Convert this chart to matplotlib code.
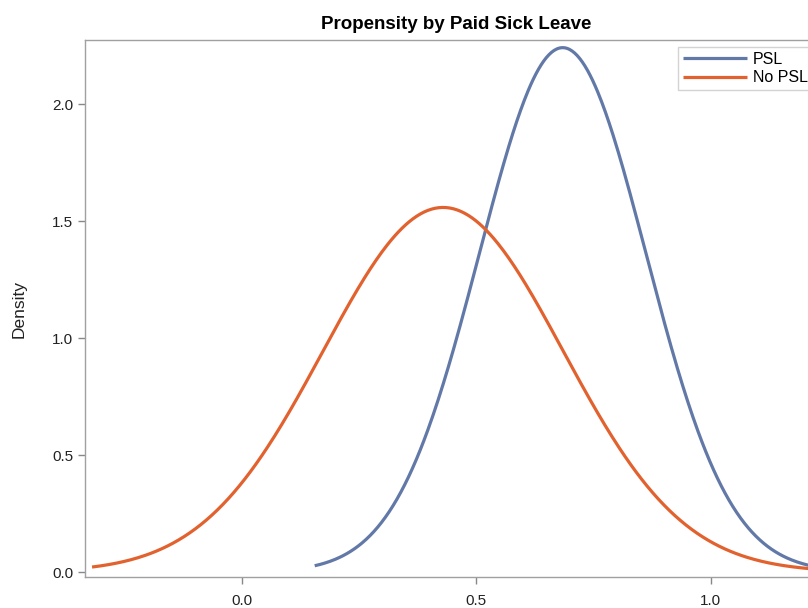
import numpy as np
import matplotlib
matplotlib.use("Agg")
import matplotlib.pyplot as plt

# Normal density curves (parameters)
groups = ["PSL", "No PSL"]
means = [0.684, 0.429]
sds = [0.178, 0.256]
x_start = [0.155, -0.32]
x_end = [1.25, 1.25]
colors = ["#6279a8", "#e2622f"]

xticks = [0.0, 0.5, 1.0]
yticks = [0.0, 0.5, 1.0, 1.5, 2.0]

plt.rcParams["font.family"] = ["Liberation Sans", "DejaVu Sans"]

fig = plt.figure(figsize=(8.08, 6.08), dpi=100)
ax = fig.add_axes([85 / 808, 31 / 608, (828 - 85) / 808, 537 / 608])

for name, mu, sd, x0, x1, c in zip(groups, means, sds, x_start, x_end, colors):
    x = np.linspace(x0, x1, 400)
    y = np.exp(-0.5 * ((x - mu) / sd) ** 2) / (sd * np.sqrt(2 * np.pi))
    ax.plot(x, y, color=c, lw=2.3, label=name, solid_capstyle="butt")

ax.set_xlim(-0.335, 1.25)
ax.set_ylim(-0.021, 2.274)
ax.set_xticks(xticks)
ax.set_xticklabels([f"{v:.1f}" for v in xticks])
ax.set_yticks(yticks)
ax.set_yticklabels([f"{v:.1f}" for v in yticks])
ax.tick_params(colors="#888888", labelcolor="#222222", labelsize=11, length=5, width=1)
ax.tick_params(axis="x", pad=7)

for side in ax.spines.values():
    side.set_color("#a0a0a0")
    side.set_linewidth(1)

ax.set_ylabel("Density", fontsize=12.5, color="#222222", labelpad=18)
ax.set_title("Propensity by Paid Sick Leave", fontsize=13.5, fontweight="bold", pad=8)

leg = ax.legend(loc="upper left", bbox_to_anchor=(678 / 808, 1 - 47 / 608),
                bbox_transform=fig.transFigure, fontsize=11.5, frameon=True,
                fancybox=False, handlelength=4.0, borderpad=0.3, labelspacing=0.22,
                borderaxespad=0, handletextpad=0.4)
leg.get_frame().set_edgecolor("#c8c8c8")
leg.get_frame().set_linewidth(1)

fig.savefig("out.png", dpi=100)
